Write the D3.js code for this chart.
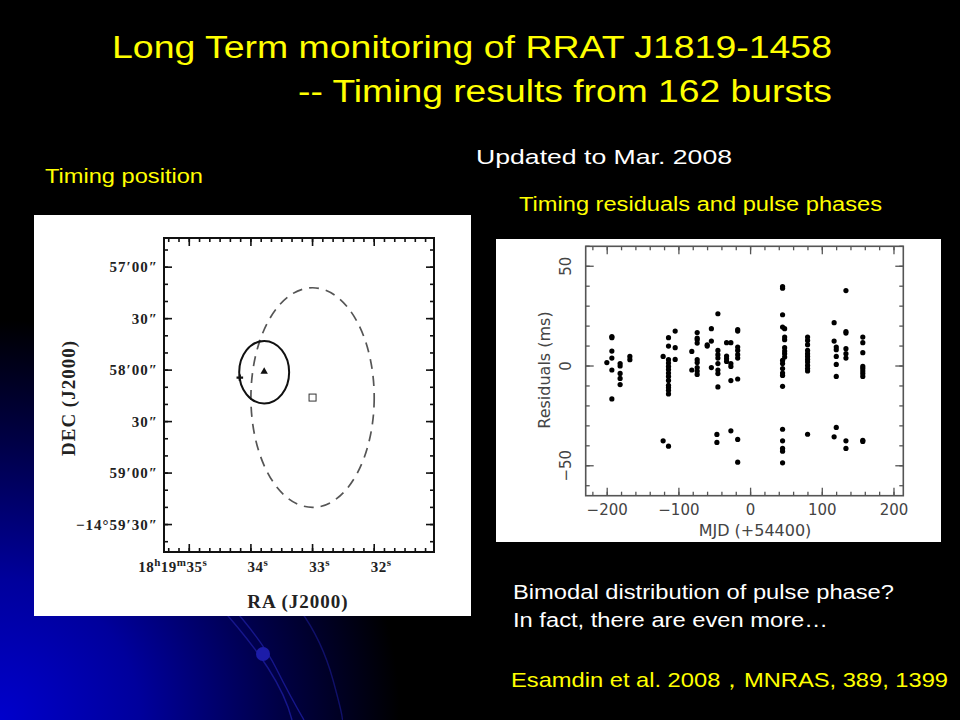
<!DOCTYPE html>
<meta charset="utf-8">

<script src="https://d3js.org/d3.v7.min.js"></script>

<style type="text/css">
body { margin:0; background:#000; }
svg { display:block; }
.slideText { font-family: "Liberation Sans", Arial, sans-serif; }
.posText { font-family: "Liberation Serif", "DejaVu Serif", serif; font-weight: bold; fill:#222; }
.resText { font-family: "DejaVu Sans", sans-serif; fill:#444; }
</style>

<body>
</body>

<script>

// ---------- data ----------
// left panel: RA in seconds past 18h19m, DEC in arcsec south of -14°57'00"
var raTicks = [35, 34, 33, 32];
var decTicks = [0, 30, 60, 90, 120, 150];
var decLabels = ["57′00″", "30″", "58′00″", "30″", "59′00″", "−14°59′30″"];
var solidEllipse = [33.785, 61.2, 0.405, 18.2];   // ra, dec, rRa, rDec
var dashedEllipse = [33.0, 76.0, 1.0, 64.0];
var trianglePos = [33.785, 60.9];
var plusPos = [34.18, 64.4];
var squarePos = [33.0, 76.0];

// right panel: burst epochs (MJD - 54400) and residuals (ms) at each epoch
var epochs = [-200.5, -193.5, -182, -168.4, -122, -114.5, -105.2, -82, -74.5,
  -60.5, -54.7, -45.6, -47, -33.5, -27.5, -18, 44.6, 47.5, 79.5, 116.5, 119.5, 133, 156.5];
var residuals = [
  [1.7],
  [14.2, 14.8, 7.5, 4.0, -2, -16.5],
  [1.2, 0, -3.7, -6.2, -9.3],
  [4.8, 3.2],
  [4.8, -37.5],
  [14.2, 10, 3.2, 1.5, -0.2, -1.8, -3.5, -5.2, -7.2, -9.7, -10.8, -12.2, -14, -40.2],
  [17.5, 9.2, 3.3],
  [7.3, -2],
  [16.8, 14, 13.2, 11.5, 3.2, 1.7, -0.8, -2.5, -4.2],
  [10, 10.6],
  [18.7, 12.5, -0.8],
  [26.2, 7.8, 5.7, 4, 1.2, -2, -3.8, -10.5],
  [-34.3, -38.3],
  [11.7, 5, 3.7, 2.3],
  [11.7, 1.2, -0.2, -7.3, -32.5],
  [18.3, 17.5, 9.5, 7.8, 5.7, 4, -6.5, -36.8, -48.2],
  [39.8, 39, 25.7, 19.5, 2.8, 1.2, -1.3, -3.5, -4.7, -10.2, -31.7, -37.5, -41.3, -42.7, -48.5],
  [18.7, 14.5, 13.2, 9.2, 7.5, 6.2, 4.5],
  [14.5, 12.8, 10.7, 7.8, 6.2, 4.8, 3.3, 2, 0.3, -1.3, -2.5, -34.2],
  [21.7, 12.5, -35.5],
  [9.5, 8.2, 4.8, 0.8, -5.2, -30.8],
  [37.8, 17.3, 16.5, 8.7, 6.2, 4, -37.5, -41.3],
  [14.5, 11.7, 6.7, -0.2, -1.3, -2.5, -3.8, -5.2, -37.2, -37.8]
];
var mjdTicks = [-200, -100, 0, 100, 200];
var resTicks = [-50, 0, 50];

var points = [];
epochs.forEach(function(e, i) {
  residuals[i].forEach(function(r) { points.push({mjd: e, res: r}); });
});

// ---------- slide ----------
var W = 960, H = 720;
var svg = d3.select('body').append('svg')
  .attr('width', W)
  .attr('height', H);

var defs = svg.append('defs');
var grad = defs.append('radialGradient')
  .attr('id', 'bluecorner')
  .attr('gradientUnits', 'userSpaceOnUse')
  .attr('cx', 0).attr('cy', 720).attr('r', 400);
grad.append('stop').attr('offset', 0).attr('stop-color', '#0000cc');
grad.append('stop').attr('offset', 0.35).attr('stop-color', '#00009c');
grad.append('stop').attr('offset', 0.7).attr('stop-color', '#000045');
grad.append('stop').attr('offset', 1).attr('stop-color', '#000000');

svg.append('rect').attr('width', W).attr('height', H).attr('fill', '#000');
svg.append('rect').attr('width', W).attr('height', H).attr('fill', 'url(#bluecorner)');

// decorative orbit lines
var deco = svg.append('g').attr('fill', 'none').attr('stroke', '#16168c').attr('stroke-width', 1.4);
deco.append('path').attr('d', 'M214,600 Q250,640 268,668 T292,720');
deco.append('path').attr('d', 'M226,600 Q262,640 276,668 T304,720');
deco.append('path').attr('d', 'M300,610 Q322,640 333,680 T342,720').attr('stroke', '#10106a');
svg.append('circle').attr('cx', 263).attr('cy', 654).attr('r', 7).attr('fill', '#1c1ca8');

// slide texts
var texts = [
  {t: 'Long Term monitoring of RRAT J1819-1458', x: 112, y: 58, w: 720, s: 31, c: '#ffff00'},
  {t: '-- Timing results from 162 bursts', x: 298, y: 102, w: 534, s: 31, c: '#ffff00'},
  {t: 'Updated to Mar. 2008', x: 476, y: 164, w: 256, s: 21, c: '#ffffff'},
  {t: 'Timing position', x: 45, y: 183, w: 158, s: 20, c: '#ffff00'},
  {t: 'Timing residuals and pulse phases', x: 519, y: 211, w: 363, s: 20, c: '#ffff00'},
  {t: 'Bimodal distribution of pulse phase?', x: 513, y: 599, w: 381, s: 20, c: '#ffffff'},
  {t: 'In fact, there are even more…', x: 513, y: 627, w: 315, s: 20, c: '#ffffff'},
  {t: 'Esamdin et al. 2008，MNRAS, 389, 1399', x: 511, y: 687, w: 437, s: 21, c: '#ffff00'}
];
svg.selectAll('.slideText')
  .data(texts)
  .enter().append('text')
  .attr('class', 'slideText')
  .attr('x', function(d) { return d.x; })
  .attr('y', function(d) { return d.y; })
  .attr('textLength', function(d) { return d.w; })
  .attr('lengthAdjust', 'spacingAndGlyphs')
  .style('font-size', function(d) { return d.s + 'px'; })
  .attr('fill', function(d) { return d.c; })
  .text(function(d) { return d.t; });

// ---------- left panel: timing position ----------
svg.append('rect').attr('x', 34).attr('y', 215).attr('width', 437).attr('height', 401).attr('fill', '#fff');

var xL = d3.scaleLinear().domain([35.41, 31.03]).range([164, 434]);
var yL = d3.scaleLinear().domain([-17, 166]).range([238, 552]);
var left = svg.append('g');

left.append('rect')
  .attr('x', 164).attr('y', 238).attr('width', 270).attr('height', 314)
  .attr('fill', 'none').attr('stroke', '#111').attr('stroke-width', 2);

var raMinor = d3.range(32 * 6 - 5, 35 * 6 + 3).map(function(k) { return k / 6; })
  .filter(function(v) { return v > 31.05 && v < 35.4; });
var decMinor = d3.range(-10, 161, 10);

function tickLines(g, vals, isX, scale, len) {
  vals.forEach(function(v) {
    var p = scale(v);
    if (isX) {
      g.append('line').attr('x1', p).attr('x2', p).attr('y1', 552).attr('y2', 552 - len);
      g.append('line').attr('x1', p).attr('x2', p).attr('y1', 238).attr('y2', 238 + len);
    } else {
      g.append('line').attr('y1', p).attr('y2', p).attr('x1', 164).attr('x2', 164 + len);
      g.append('line').attr('y1', p).attr('y2', p).attr('x1', 434).attr('x2', 434 - len);
    }
  });
}
var lt = left.append('g').attr('stroke', '#111').attr('stroke-width', 1.6);
tickLines(lt, raMinor, true, xL, 4);
tickLines(lt, raTicks, true, xL, 8);
tickLines(lt, decMinor, false, yL, 4);
tickLines(lt, decTicks, false, yL, 8);

left.selectAll('.decLab')
  .data(decTicks)
  .enter().append('text')
  .attr('class', 'posText')
  .attr('x', 158)
  .attr('y', function(d) { return yL(d) + 5; })
  .attr('text-anchor', 'end')
  .style('font-size', '15px')
  .style('letter-spacing', '1px')
  .text(function(d, i) { return decLabels[i]; });

var raLab = left.selectAll('.raLab')
  .data(raTicks)
  .enter().append('text')
  .attr('class', 'posText')
  .attr('x', function(d) { return xL(d) + (d === 35 ? 18 : 7); })
  .attr('y', 572)
  .attr('text-anchor', function(d) { return d === 35 ? 'end' : 'middle'; })
  .style('font-size', '15px')
  .style('letter-spacing', '0.5px');
raLab.each(function(d) {
  var t = d3.select(this);
  if (d === 35) {
    t.append('tspan').text('18');
    t.append('tspan').attr('dy', -6).style('font-size', '11px').text('h');
    t.append('tspan').attr('dy', 6).text('19');
    t.append('tspan').attr('dy', -6).style('font-size', '11px').text('m');
    t.append('tspan').attr('dy', 6).text('35');
    t.append('tspan').attr('dy', -6).style('font-size', '11px').text('s');
  } else {
    t.append('tspan').text(d);
    t.append('tspan').attr('dy', -6).style('font-size', '11px').text('s');
  }
});

left.append('text').attr('class', 'posText')
  .attr('transform', 'translate(75,398) rotate(-90)')
  .attr('text-anchor', 'middle')
  .style('font-size', '19px').style('letter-spacing', '1px')
  .text('DEC (J2000)');
left.append('text').attr('class', 'posText')
  .attr('x', 298).attr('y', 608)
  .attr('text-anchor', 'middle')
  .style('font-size', '19px').style('letter-spacing', '1px')
  .text('RA (J2000)');

// error ellipses
left.append('ellipse')
  .attr('cx', xL(dashedEllipse[0])).attr('cy', yL(dashedEllipse[1]))
  .attr('rx', Math.abs(xL(dashedEllipse[0] + dashedEllipse[2]) - xL(dashedEllipse[0])))
  .attr('ry', yL(dashedEllipse[1] + dashedEllipse[3]) - yL(dashedEllipse[1]))
  .attr('fill', 'none').attr('stroke', '#555').attr('stroke-width', 1.7)
  .attr('stroke-dasharray', '10,7');
left.append('ellipse')
  .attr('cx', xL(solidEllipse[0])).attr('cy', yL(solidEllipse[1]))
  .attr('rx', Math.abs(xL(solidEllipse[0] + solidEllipse[2]) - xL(solidEllipse[0])))
  .attr('ry', yL(solidEllipse[1] + solidEllipse[3]) - yL(solidEllipse[1]))
  .attr('fill', 'none').attr('stroke', '#111').attr('stroke-width', 2);

left.append('path')
  .attr('d', d3.symbol().type(d3.symbolTriangle).size(24))
  .attr('transform', 'translate(' + xL(trianglePos[0]) + ',' + yL(trianglePos[1]) + ')')
  .attr('fill', '#111');
left.append('path')
  .attr('d', d3.symbol().type(d3.symbolCross).size(24))
  .attr('transform', 'translate(' + xL(plusPos[0]) + ',' + yL(plusPos[1]) + ')')
  .attr('fill', '#111');
left.append('rect')
  .attr('x', xL(squarePos[0]) - 3.5).attr('y', yL(squarePos[1]) - 3.5)
  .attr('width', 7).attr('height', 7)
  .attr('fill', 'none').attr('stroke', '#333').attr('stroke-width', 1);

// ---------- right panel: residuals ----------
svg.append('rect').attr('x', 496).attr('y', 239).attr('width', 445).attr('height', 303).attr('fill', '#fff');

var xR = d3.scaleLinear().domain([-230, 213]).range([585.7, 903.3]);
var yR = d3.scaleLinear().domain([-65, 60]).range([495.7, 246.3]);
var right = svg.append('g');

right.append('rect')
  .attr('x', 585.7).attr('y', 246.3).attr('width', 317.6).attr('height', 249.4)
  .attr('fill', 'none').attr('stroke', '#555').attr('stroke-width', 1.6);

function tickLinesR(g, vals, isX, scale, len) {
  vals.forEach(function(v) {
    var p = scale(v);
    if (isX) {
      g.append('line').attr('x1', p).attr('x2', p).attr('y1', 495.7).attr('y2', 495.7 - len);
      g.append('line').attr('x1', p).attr('x2', p).attr('y1', 246.3).attr('y2', 246.3 + len);
    } else {
      g.append('line').attr('y1', p).attr('y2', p).attr('x1', 585.7).attr('x2', 585.7 + len);
      g.append('line').attr('y1', p).attr('y2', p).attr('x1', 903.3).attr('x2', 903.3 - len);
    }
  });
}
var rt = right.append('g').attr('stroke', '#555').attr('stroke-width', 1.3);
tickLinesR(rt, d3.range(-220, 201, 20), true, xR, 4);
tickLinesR(rt, mjdTicks, true, xR, 8);
tickLinesR(rt, d3.range(-60, 61, 10), false, yR, 4);
tickLinesR(rt, resTicks, false, yR, 8);

right.selectAll('.mjdLab')
  .data(mjdTicks)
  .enter().append('text')
  .attr('class', 'resText')
  .attr('x', function(d) { return xR(d); })
  .attr('y', 515)
  .attr('text-anchor', 'middle')
  .style('font-size', '15px')
  .text(function(d) { return d < 0 ? '−' + (-d) : d; });

right.selectAll('.resLab')
  .data(resTicks)
  .enter().append('text')
  .attr('class', 'resText')
  .attr('transform', function(d) { return 'translate(571,' + yR(d) + ') rotate(-90)'; })
  .attr('text-anchor', 'middle')
  .style('font-size', '15px')
  .text(function(d) { return d < 0 ? '−' + (-d) : d; });

right.append('text').attr('class', 'resText')
  .attr('x', 755).attr('y', 536)
  .attr('text-anchor', 'middle')
  .style('font-size', '16px')
  .text('MJD (+54400)');
right.append('text').attr('class', 'resText')
  .attr('transform', 'translate(550,370) rotate(-90)')
  .attr('text-anchor', 'middle')
  .style('font-size', '16px')
  .text('Residuals (ms)');

right.selectAll('.dot')
  .data(points)
  .enter().append('circle')
  .attr('class', 'dot')
  .attr('cx', function(d) { return xR(d.mjd); })
  .attr('cy', function(d) { return yR(d.res); })
  .attr('r', 2.6)
  .attr('fill', '#000');

</script>
